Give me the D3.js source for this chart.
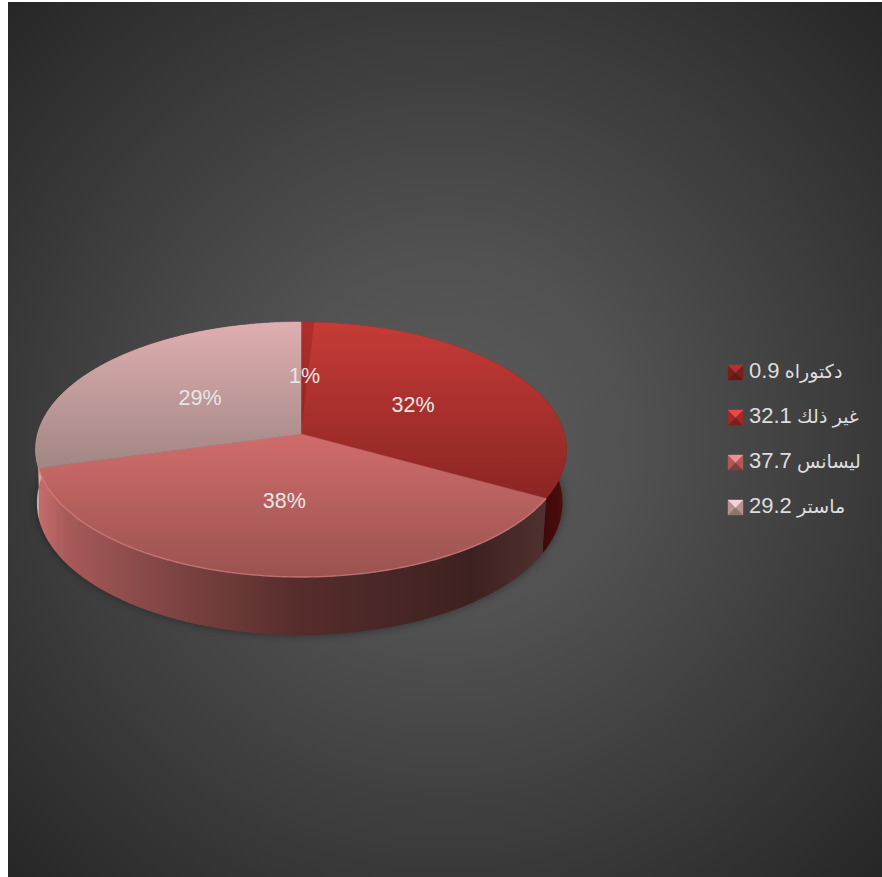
<!DOCTYPE html>
<html>
<head>
<meta charset="utf-8">
<script src="https://cdn.jsdelivr.net/npm/d3@7/dist/d3.min.js"></script>
<style>
html,body{margin:0;padding:0;background:#fff}
svg{display:block}
text{font-family:"Liberation Sans",Arial,"DejaVu Sans",sans-serif}
</style>
</head>
<body>
<svg id="chart" width="882" height="877"></svg>
<script>
// Education level shares
const categories = ["دكتوراه", "غير ذلك", "ليسانس", "ماستر"];
const values = [0.9, 32.1, 37.7, 29.2];
const topStart = ["#b02f2c", "#c63b37", "#d06c6b", "#e0aeb0"];
const topEnd = ["#8f2422", "#8a2523", "#9a5350", "#a18684"];
const swatchTop = ["#b03230", "#e84b47", "#f09090", "#f0d5d5"];
const swatchSide = ["#7a1f1d", "#a02826", "#b05a58", "#b89090"];
const swatchBottom = ["#5f1a18", "#7a1f1d", "#80403f", "#8f7472"];

const svg = d3.select("#chart");
const defs = svg.append("defs");

// Dark backdrop with a soft central glow
const bg = defs.append("radialGradient").attr("id", "bg")
  .attr("gradientUnits", "userSpaceOnUse")
  .attr("cx", 445).attr("cy", 440).attr("r", 620);
[[0, "#5c5c5c"], [0.3, "#515151"], [0.7, "#393939"], [1, "#262626"]].forEach(([o, c]) =>
  bg.append("stop").attr("offset", o).attr("stop-color", c));
svg.append("rect").attr("x", 8).attr("y", 2).attr("width", 874).attr("height", 875).attr("fill", "url(#bg)");

defs.append("filter").attr("id", "soft").attr("x", "-10%").attr("y", "-10%").attr("width", "120%").attr("height", "120%")
  .append("feGaussianBlur").attr("stdDeviation", 5);

// Tilted-disc projection: unit-circle angle and radius to screen position
const cx = 301, cy = 434, A = 263.5, B = 125.6, K = 0.1216;
function project(angle, r = 1) {
  const u = r * Math.sin(angle), v = r * Math.cos(angle), w = 1 + K * v;
  return [cx + A * u / w, cy - B * v / w];
}
// Lower rim of the disc, drawn in from the upper one for the camera offset
function lower(p) {
  const dx = p[0] - cx;
  return [cx + dx * (dx < 0 ? 0.995 : 0.985), cy + (p[1] - cy) * 1.038 + 52.6];
}
function sweep(a0, a1) {
  const n = Math.max(2, Math.ceil((a1 - a0) / 0.01));
  return d3.range(n + 1).map(i => a0 + (a1 - a0) * i / n);
}
const line = d3.line();

const slices = d3.pie().sort(null).value(d => d)(values);

// Shadow around the outer wall
const fullRim = sweep(0, 2 * Math.PI).map(a => project(a));
svg.append("path")
  .attr("d", line(fullRim.map(lower)) + "Z")
  .attr("fill", "#000").attr("opacity", 0.4).attr("filter", "url(#soft)");

// Horizontal shading along the wall
const wall = defs.append("linearGradient").attr("id", "wall")
  .attr("gradientUnits", "userSpaceOnUse").attr("x1", 35).attr("x2", 566).attr("y1", 0).attr("y2", 0);
[[0, "#c87070"], [0.06, "#a85a59"], [0.2, "#884a49"], [0.5, "#552c2b"], [0.82, "#3d2120"], [0.95, "#4d2f2e"], [1, "#4d2f2e"]]
  .forEach(([o, c]) => wall.append("stop").attr("offset", o).attr("stop-color", c));
const wallRight = defs.append("linearGradient").attr("id", "wallRight")
  .attr("gradientUnits", "userSpaceOnUse").attr("x1", 540).attr("x2", 566).attr("y1", 0).attr("y2", 0);
[[0, "#3a0a09"], [0.7, "#480c0b"], [1, "#5a1110"]]
  .forEach(([o, c]) => wallRight.append("stop").attr("offset", o).attr("stop-color", c));
const wallFills = ["#5a1412", "url(#wallRight)", "url(#wall)", "#c9a9a9"];

svg.append("g").selectAll("path").data(slices).join("path")
  .attr("d", d => {
    const rim = sweep(d.startAngle, d.endAngle).map(a => project(a));
    return line(rim.concat(rim.map(lower).reverse())) + "Z";
  })
  .attr("fill", (d, i) => wallFills[i]);

// Top face, each slice with its own vertical gradient
slices.forEach((d, i) => {
  const rim = sweep(d.startAngle, d.endAngle).map(a => project(a));
  const ys = rim.map(p => p[1]).concat(cy);
  const g = defs.append("linearGradient").attr("id", "top" + i)
    .attr("gradientUnits", "userSpaceOnUse")
    .attr("x1", 0).attr("x2", 0).attr("y1", d3.min(ys)).attr("y2", d3.max(ys));
  g.append("stop").attr("offset", 0).attr("stop-color", topStart[i]);
  g.append("stop").attr("offset", 1).attr("stop-color", topEnd[i]);
});
svg.append("g").selectAll("path").data(slices).join("path")
  .attr("d", d => line([[cx, cy]].concat(sweep(d.startAngle, d.endAngle).map(a => project(a)))) + "Z")
  .attr("fill", (d, i) => `url(#top${i})`)
  .attr("stroke", (d, i) => `url(#top${i})`).attr("stroke-width", 0.5);

// Light catch along the front rim of the largest slice
svg.append("path")
  .datum(slices[2])
  .attr("d", d => line(sweep(d.startAngle, d.endAngle).map(a => project(a))))
  .attr("fill", "none").attr("stroke", "#e58a88").attr("stroke-width", 1.4).attr("opacity", 0.6);

// Percentage labels at mid-radius of each slice
const total = d3.sum(values);
svg.append("g").selectAll("text").data(slices).join("text")
  .attr("x", d => project((d.startAngle + d.endAngle) / 2, 0.5)[0])
  .attr("y", d => project((d.startAngle + d.endAngle) / 2, 0.5)[1])
  .attr("dy", "0.36em")
  .attr("text-anchor", "middle").attr("font-size", 21.5).attr("fill", "#e6e6e6")
  .text(d => Math.round(d.value / total * 100) + "%");

// Legend with bevelled swatches
const legendY = d3.scalePoint().domain(categories).range([365, 500]);
const rows = svg.append("g").selectAll("g").data(categories).join("g")
  .attr("transform", d => `translate(728,${legendY(d)})`);
const S = 15, m = S / 2;
const facets = [
  { pts: [[0, S], [m, m], [S, S]], fill: i => swatchBottom[i] },
  { pts: [[0, 0], [m, m], [0, S]], fill: i => swatchSide[i] },
  { pts: [[S, 0], [S, S], [m, m]], fill: i => swatchSide[i] },
  { pts: [[0, 0], [S, 0], [m, m]], fill: i => swatchTop[i] }
];
facets.forEach(f => {
  rows.append("path").attr("d", line(f.pts) + "Z")
    .attr("fill", (d, i) => f.fill(i)).attr("stroke", (d, i) => f.fill(i)).attr("stroke-width", 0.4);
});
const legendText = rows.append("text")
  .attr("x", 21).attr("y", 13.2).attr("fill", "#dedede");
legendText.append("tspan").attr("font-size", 19).text(d => d + " ");
legendText.append("tspan").attr("font-size", 22).text((d, i) => values[i]);
</script>
</body>
</html>
